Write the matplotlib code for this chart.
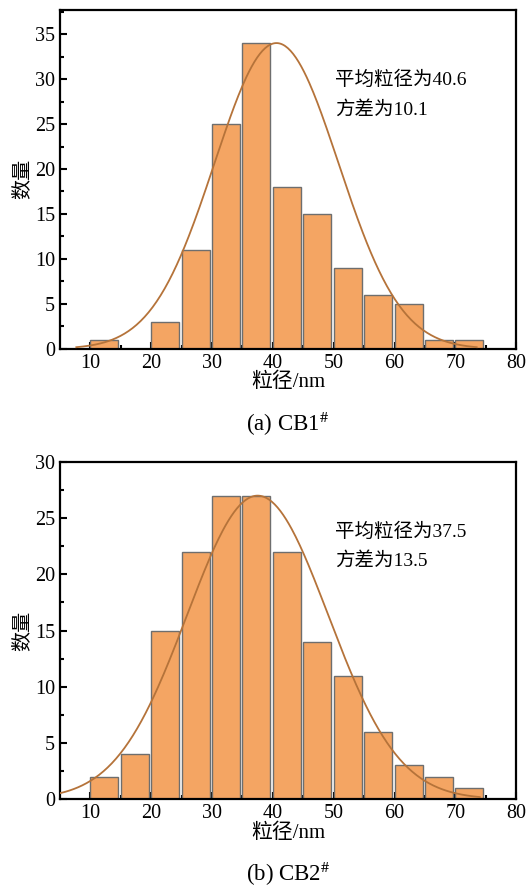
import numpy as np
import matplotlib as mpl
mpl.use('Agg')
import matplotlib.pyplot as plt

plt.rcParams['font.family'] = ['Liberation Serif', 'Noto Sans CJK SC']
plt.rcParams['mathtext.fontset'] = 'stix'

BAR_FILL = '#F4A563'
BAR_EDGE = '#6E6E6E'
CURVE = '#B5733A'

# bin left edges (nm) and counts
bins = [10, 15, 20, 25, 30, 35, 40, 45, 50, 55, 60, 65, 70]
counts_cb1 = [1, 0, 3, 11, 25, 34, 18, 15, 9, 6, 5, 1, 1]
counts_cb2 = [2, 4, 15, 22, 27, 27, 22, 14, 11, 6, 3, 2, 1]

# gaussian fit: peak height, centre, width, x range of the drawn curve
fit_cb1 = (34.0, 40.6, 10.2, 7.7, 73.5)
fit_cb2 = (27.0, 37.5, 11.6, 5.0, 74.0)

notes_cb1 = ['平均粒径为40.6', '方差为10.1']
notes_cb2 = ['平均粒径为37.5', '方差为13.5']

xticks = [10, 20, 30, 40, 50, 60, 70, 80]


def draw_panel(ax, counts, fit, notes, ylim, yticks, caption):
    ax.bar(bins, counts, width=4.6, align='edge', color=BAR_FILL,
           edgecolor=BAR_EDGE, linewidth=1.0, zorder=2)
    a, mu, s, x0, x1 = fit
    xs = np.linspace(x0, x1, 300)
    ax.plot(xs, a * np.exp(-(xs - mu) ** 2 / (2 * s ** 2)), color=CURVE,
            linewidth=1.3, zorder=3)
    ax.set_xlim(5, 80)
    ax.set_ylim(*ylim)
    ax.set_xticks(xticks)
    ax.set_yticks(yticks)
    ax.set_xticks([15, 25, 35, 45, 55, 65, 75], minor=True)
    ax.set_yticks(np.arange(2.5, ylim[1], 5), minor=True)
    ax.tick_params(which='both', direction='in', top=False, right=False,
                   labelsize=14.5, width=1.5)
    ax.tick_params(which='major', length=5)
    ax.tick_params(which='minor', length=3)
    for sp in ax.spines.values():
        sp.set_linewidth(1.6)
    ax.set_xlabel('粒径/nm', fontsize=15, labelpad=0)
    ax.set_ylabel('数量', fontsize=14.5, labelpad=2)
    ax.text(0.603, 0.794, notes[0], transform=ax.transAxes, fontsize=14,
            va='center')
    ax.text(0.603, 0.705, notes[1], transform=ax.transAxes, fontsize=14,
            va='center')
    ax.text(0.5, -0.222, caption, transform=ax.transAxes, fontsize=16.5,
            ha='center', va='center')


fig = plt.figure(figsize=(5.3, 8.9), dpi=100)
ax1 = fig.add_axes([0.113, 0.608, 0.861, 0.381])
ax2 = fig.add_axes([0.113, 0.102, 0.861, 0.379])

draw_panel(ax1, counts_cb1, fit_cb1, notes_cb1, (0, 37.7),
           [0, 5, 10, 15, 20, 25, 30, 35], '(a) CB1$^{\\#}$')
draw_panel(ax2, counts_cb2, fit_cb2, notes_cb2, (0, 30),
           [0, 5, 10, 15, 20, 25, 30], '(b) CB2$^{\\#}$')

fig.savefig('out.png', dpi=100)
